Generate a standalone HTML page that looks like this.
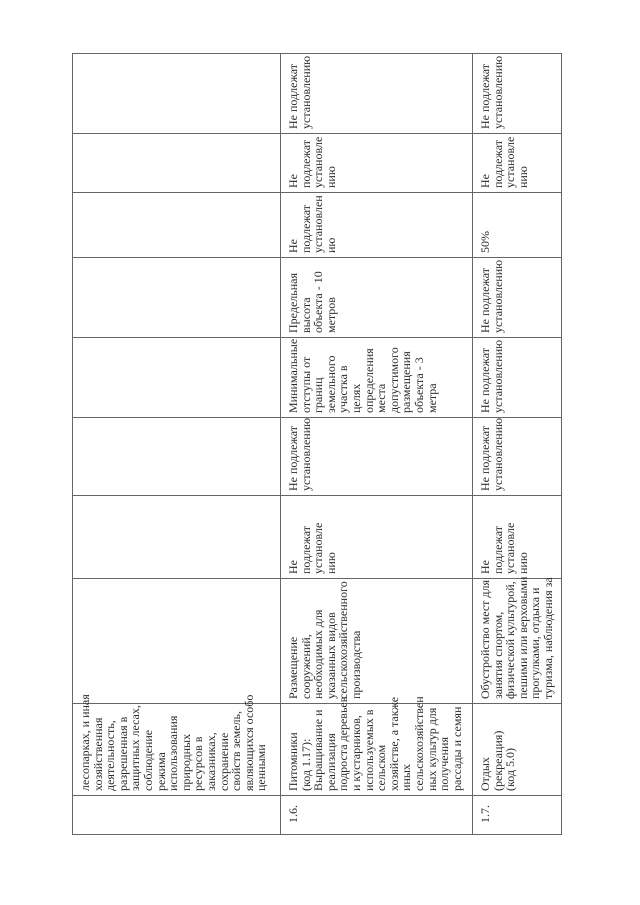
<!DOCTYPE html>
<html><head><meta charset="utf-8">
<style>
html,body{margin:0;padding:0;background:#fff;}
body{width:640px;height:905px;position:relative;overflow:hidden;font-family:"Liberation Serif","DejaVu Serif",serif;color:#2a2a2a;}
.h{position:absolute;height:1px;background:#666;}
.v{position:absolute;width:1px;background:#666;}
.c{position:absolute;transform:rotate(-90deg);transform-origin:0 0;box-sizing:border-box;padding:7px 3px 0 4px;font-size:12px;line-height:12.6px;white-space:nowrap;}
.n{padding-left:11px;}
</style></head><body>
<!-- borders -->
<div class="v" style="left:72px;top:53px;height:782px"></div>
<div class="v" style="left:280px;top:53px;height:782px"></div>
<div class="v" style="left:472px;top:53px;height:782px"></div>
<div class="v" style="left:561px;top:53px;height:782px"></div>
<div class="h" style="left:72px;width:490px;top:53px"></div>
<div class="h" style="left:72px;width:490px;top:133px"></div>
<div class="h" style="left:72px;width:490px;top:192px"></div>
<div class="h" style="left:72px;width:490px;top:257px"></div>
<div class="h" style="left:72px;width:490px;top:337px"></div>
<div class="h" style="left:72px;width:490px;top:417px"></div>
<div class="h" style="left:72px;width:490px;top:495px"></div>
<div class="h" style="left:72px;width:490px;top:578px"></div>
<div class="h" style="left:72px;width:490px;top:703px"></div>
<div class="h" style="left:72px;width:490px;top:795px"></div>
<div class="h" style="left:72px;width:490px;top:834px"></div>

<!-- column A -->
<div class="c" style="left:72px;top:795px;width:92px;height:208px">лесопарках, и иная<br>хозяйственная<br>деятельность,<br>разрешенная в<br>защитных лесах,<br>соблюдение<br>режима<br>использования<br>природных<br>ресурсов в<br>заказниках,<br>сохранение<br>свойств земель,<br>являющихся особо<br>ценными</div>

<!-- column B -->
<div class="c n" style="left:280px;top:834px;width:39px;height:192px">1.6.</div>
<div class="c" style="left:280px;top:795px;width:92px;height:192px">Питомники<br>(код 1.17):<br>Выращивание и<br>реализация<br>подроста деревьев<br>и кустарников,<br>используемых в<br>сельском<br>хозяйстве, а также<br>иных<br>сельскохозяйствен<br>ных культур для<br>получения<br>рассады и семян</div>
<div class="c" style="left:280px;top:703px;width:125px;height:192px">Размещение<br>сооружений,<br>необходимых для<br>указанных видов<br>сельскохозяйственного<br>производства</div>
<div class="c" style="left:280px;top:578px;width:83px;height:192px">Не<br>подлежат<br>установле<br>нию</div>
<div class="c" style="left:280px;top:495px;width:78px;height:192px">Не подлежат<br>установлению</div>
<div class="c" style="left:280px;top:417px;width:80px;height:192px">Минимальные<br>отступы от<br>границ<br>земельного<br>участка в<br>целях<br>определения<br>места<br>допустимого<br>размещения<br>объекта - 3<br>метра</div>
<div class="c" style="left:280px;top:337px;width:80px;height:192px">Предельная<br>высота<br>объекта - 10<br>метров</div>
<div class="c" style="left:280px;top:257px;width:65px;height:192px">Не<br>подлежат<br>установлен<br>ию</div>
<div class="c" style="left:280px;top:192px;width:59px;height:192px">Не<br>подлежат<br>установле<br>нию</div>
<div class="c" style="left:280px;top:133px;width:80px;height:192px">Не подлежат<br>установлению</div>

<!-- column C -->
<div class="c n" style="left:472px;top:834px;width:39px;height:89px">1.7.</div>
<div class="c" style="left:472px;top:795px;width:92px;height:89px">Отдых<br>(рекреация)<br>(код 5.0)</div>
<div class="c" style="left:472px;top:703px;width:125px;height:89px">Обустройство мест для<br>занятия спортом,<br>физической культурой,<br>пешими или верховыми<br>прогулками, отдыха и<br>туризма, наблюдения за</div>
<div class="c" style="left:472px;top:578px;width:83px;height:89px">Не<br>подлежат<br>установле<br>нию</div>
<div class="c" style="left:472px;top:495px;width:78px;height:89px">Не подлежат<br>установлению</div>
<div class="c" style="left:472px;top:417px;width:80px;height:89px">Не подлежат<br>установлению</div>
<div class="c" style="left:472px;top:337px;width:80px;height:89px">Не подлежат<br>установлению</div>
<div class="c" style="left:472px;top:257px;width:65px;height:89px">50%</div>
<div class="c" style="left:472px;top:192px;width:59px;height:89px">Не<br>подлежат<br>установле<br>нию</div>
<div class="c" style="left:472px;top:133px;width:80px;height:89px">Не подлежат<br>установлению</div>
</body></html>
